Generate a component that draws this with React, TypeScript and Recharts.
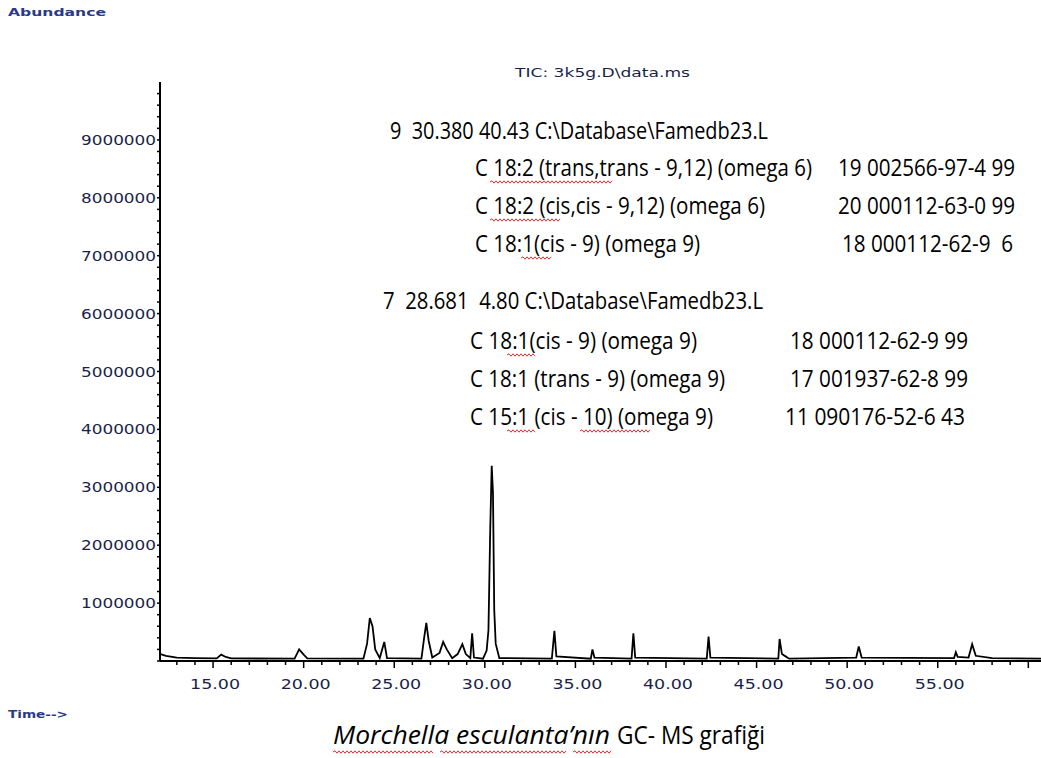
import { LineChart, Line, XAxis, YAxis } from "recharts";

// retention time (min) and abundance
const times = [
  12.1, 12.4, 13.0, 14.0, 15.2, 15.45, 15.7, 16.0, 19.5, 19.75, 20.0, 20.2,
  23.3, 23.5, 23.65, 23.8, 23.95, 24.2, 24.45, 24.6, 26.5, 26.65, 26.77, 26.9,
  27.1, 27.5, 27.7, 27.9, 28.2, 28.5, 28.76, 28.95, 29.2, 29.3, 29.4, 29.9,
  30.1, 30.2, 30.3, 30.38, 30.45, 30.52, 30.6, 30.8, 33.7, 33.84, 33.95, 35.85,
  35.94, 36.05, 38.1, 38.2, 38.3, 42.25, 42.35, 42.45, 46.2, 46.27, 46.4, 46.6,
  46.8, 50.5, 50.64, 50.8, 55.9, 56.0, 56.1, 56.7, 56.9, 57.1, 58.0, 60.7,
];
const abundance = [
  120000, 90000, 60000, 50000, 45000, 110000, 70000, 45000, 40000, 200000, 110000, 45000,
  40000, 300000, 740000, 600000, 200000, 50000, 330000, 50000, 40000, 400000, 660000, 350000,
  60000, 140000, 330000, 200000, 50000, 120000, 290000, 120000, 50000, 480000, 60000, 40000,
  180000, 530000, 2300000, 3370000, 2900000, 880000, 300000, 50000, 40000, 520000, 80000, 40000,
  200000, 60000, 40000, 480000, 60000, 40000, 420000, 60000, 40000, 380000, 120000, 80000,
  40000, 60000, 250000, 60000, 50000, 150000, 70000, 60000, 290000, 90000, 50000, 40000,
];

const xTicks = [13, 14, 15, 16, 17, 18, 19, 20, 21, 22, 23, 24, 25, 26, 27, 28, 29, 30, 31, 32, 33, 34, 35, 36, 37, 38, 39, 40, 41, 42, 43, 44, 45, 46, 47, 48, 49, 50, 51, 52, 53, 54, 55, 56, 57, 58, 59, 60];
const xLabels = [15, 20, 25, 30, 35, 40, 45, 50, 55];
const yLabels = [1000000, 2000000, 3000000, 4000000, 5000000, 6000000, 7000000, 8000000, 9000000];
const yTicks: number[] = [];
for (let v = 0; v <= 9800000; v += 200000) yTicks.push(v);

const data = times.map((t, i) => ({ t, v: abundance[i] }));

const LABEL = "#1b1f4b";

const XTick = (props: any) => {
  const { x, y, payload } = props;
  const major = payload.value % 5 === 0;
  return (
    <g>
      <line x1={x} x2={x} y1={y} y2={y + (major ? 7 : 4)} stroke="#000" strokeWidth={1.5} />
      {xLabels.includes(payload.value) && (
        <text x={x + 2} y={y + 28} textAnchor="middle" fontFamily="DejaVu Sans" fontSize={14} fill={LABEL}
          textLength={50} lengthAdjust="spacingAndGlyphs">
          {payload.value.toFixed(2)}
        </text>
      )}
    </g>
  );
};

const YTick = (props: any) => {
  const { x, y, payload } = props;
  const major = yLabels.includes(payload.value);
  return (
    <g>
      <line x1={x - 3} x2={x} y1={y} y2={y} stroke="#000" strokeWidth={1.5} />
      {major && (
        <text x={x - 4} y={y + 5} textAnchor="end" fontFamily="DejaVu Sans" fontSize={14} fill={LABEL}
          textLength={75} lengthAdjust="spacingAndGlyphs">
          {payload.value}
        </text>
      )}
    </g>
  );
};

function wave(x1: number, x2: number, y: number) {
  let d = `M${x1},${y}`;
  let i = 0;
  for (let x = x1; x < x2; x += 2) {
    d += ` L${x + 2},${y + (i++ % 2 ? 1.2 : -1.2)}`;
  }
  return <path d={d} stroke="#e03030" strokeWidth={1} fill="none" />;
}

const notes: [string, number, number, number][] = [
  ["9  30.380 40.43 C:\\Database\\Famedb23.L", 390, 139, 378],
  ["C 18:2 (trans,trans - 9,12) (omega 6)", 475, 176, 337],
  ["19 002566-97-4 99", 838, 176, 177],
  ["C 18:2 (cis,cis - 9,12) (omega 6)", 475, 214, 290],
  ["20 000112-63-0 99", 838, 214, 177],
  ["C 18:1(cis - 9) (omega 9)", 475, 252, 225],
  ["18 000112-62-9  6", 842, 252, 171],
  ["7  28.681  4.80 C:\\Database\\Famedb23.L", 383, 309, 380],
  ["C 18:1(cis - 9) (omega 9)", 470, 349, 227],
  ["18 000112-62-9 99", 790, 349, 178],
  ["C 18:1 (trans - 9) (omega 9)", 470, 387, 255],
  ["17 001937-62-8 99", 790, 387, 178],
  ["C 15:1 (cis - 10) (omega 9)", 470, 425, 243],
  ["11 090176-52-6 43", 785, 425, 180],
];

export default function App() {
  return (
    <div style={{ position: "absolute", left: 0, top: 0, width: 1041, height: 758, background: "#fff" }}>
      <LineChart width={1041} height={758} data={data} margin={{ top: 82, right: 0, bottom: 57, left: 0 }}>
        <XAxis dataKey="t" type="number" domain={[12.07, 60.7]} ticks={xTicks} allowDataOverflow
          height={40} tickSize={0} tickMargin={0} tickLine={false} tick={<XTick />}
          axisLine={{ stroke: "#000", strokeWidth: 2 }} interval={0} />
        <YAxis type="number" domain={[0, 10000000]} ticks={yTicks} width={160} allowDataOverflow
          tickSize={0} tickMargin={0} tickLine={false} tick={<YTick />} interval={0}
          axisLine={{ stroke: "#000", strokeWidth: 2 }} />
        <Line dataKey="v" type="linear" stroke="#000" strokeWidth={1.8} dot={false} isAnimationActive={false} />
      </LineChart>
      <svg width={1041} height={758} style={{ position: "absolute", left: 0, top: 0, pointerEvents: "none" }}>
        <text x={8} y={16} fontFamily="DejaVu Sans" fontWeight="bold" fontSize={11} fill="#2a3a8a"
          textLength={98} lengthAdjust="spacingAndGlyphs">Abundance</text>
        <text x={515} y={77} fontFamily="DejaVu Sans" fontSize={12} fill="#1b1f4b"
          textLength={175} lengthAdjust="spacingAndGlyphs">TIC: 3k5g.D\data.ms</text>
        <text x={8} y={718} fontFamily="DejaVu Sans" fontWeight="bold" fontSize={11} fill="#2a3a8a"
          textLength={60} lengthAdjust="spacingAndGlyphs">Time--&gt;</text>
        {notes.map(([s, x, y, w], i) => (
          <text key={i} x={x} y={y} fontFamily="Open Sans" fontSize={23} fill="#000"
            textLength={w} lengthAdjust="spacingAndGlyphs" style={{ whiteSpace: "pre" }}>{s}</text>
        ))}
        {wave(490, 612, 182)}
        {wave(490, 560, 220)}
        {wave(521, 550, 258)}
        {wave(507, 534, 355)}
        {wave(507, 534, 431)}
        {wave(580, 650, 431)}
        <text x={333} y={744} fontFamily="Open Sans" fontStyle="italic" fontSize={26} fill="#000"
          textLength={277} lengthAdjust="spacingAndGlyphs">Morchella esculanta’nın</text>
        <text x={617} y={744} fontFamily="Open Sans" fontSize={26} fill="#000"
          textLength={148} lengthAdjust="spacingAndGlyphs">GC- MS grafiği</text>
        {wave(333, 432, 752)}
        {wave(440, 565, 752)}
        {wave(573, 610, 752)}
      </svg>
    </div>
  );
}
